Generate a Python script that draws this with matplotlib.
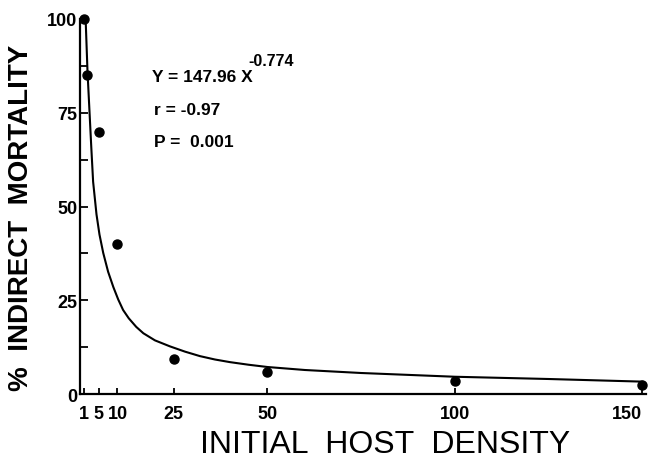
import matplotlib
matplotlib.use("Agg")
import matplotlib.pyplot as plt

# ---- data ----
density = [1, 2, 5, 10, 25, 50, 100, 150]
mortality = [100, 85, 70, 40, 9.3, 6, 3.5, 2.4]

# fitted curve as drawn in the reference
curve_x = [1.5, 2, 2.5, 3, 3.5, 4.4, 5.2, 6.2, 7.5, 8.9, 10.2, 11.5, 13, 15, 16.9,
           20, 24, 28, 32, 36, 40, 45, 50, 60, 75, 100, 125, 150]
curve_y = [100, 86, 76, 66, 56.6, 47.9, 42.5, 37.6, 32.6, 28.5, 25.2, 22.4, 20.2, 17.9, 16.2,
           14.3, 12.7, 11.3, 10.1, 9.2, 8.5, 7.8, 7.2, 6.4, 5.6, 4.6, 4.0, 3.3]

x_ticks = [1, 5, 10, 25, 50, 100, 150]
x_ticklabels = ["1", "5", "10", "25", "50", "100", "150"]
y_major = [0, 25, 50, 75, 100]
y_minor = [12.5, 37.5, 62.5, 87.5]

eq_text = "Y = 147.96 X"
eq_exp = "-0.774"
r_text = "r = -0.97"
p_text = "P =  0.001"
x_label = "INITIAL  HOST  DENSITY"
y_label = "%  INDIRECT  MORTALITY"

base = "Liberation Sans"

fig = plt.figure(figsize=(6.48, 4.64), dpi=100)
ax = fig.add_axes([80 / 648, 1 - 395 / 464, 566 / 648, 375 / 464])

ax.plot(curve_x, curve_y, color="black", lw=1.5, zorder=2,
        solid_joinstyle="round")
ax.plot(density, mortality, "o", color="black", ms=6.5, zorder=3, clip_on=False)

ax.set_xlim(0, 151)
ax.set_ylim(0, 100)

for s in ["top", "right"]:
    ax.spines[s].set_visible(False)
for s in ["left", "bottom"]:
    ax.spines[s].set_linewidth(1.6)

ax.set_xticks(x_ticks)
ax.set_xticklabels(x_ticklabels)
ax.set_yticks(y_major)
ax.set_yticks(y_minor, minor=True)
ax.tick_params(axis="x", direction="in", length=4, width=1.3, pad=8)
ax.tick_params(axis="y", which="both", direction="in", length=6, width=1.3, pad=2)
ax.tick_params(axis="x", which="minor", length=0)

for lab in ax.get_xticklabels() + ax.get_yticklabels():
    lab.set_fontfamily(base)
    lab.set_fontweight("bold")
    lab.set_fontsize(13)
ax.get_xticklabels()[-1].set_horizontalalignment("right")

tkw = dict(family=base, fontweight="bold", color="black", va="baseline")
ax.text(19.2, 83.5, eq_text, fontsize=12.5, **tkw)
ax.text(45.0, 87.8, eq_exp, fontsize=11.5, **tkw)
ax.text(19.8, 74.7, r_text, fontsize=12.5, **tkw)
ax.text(19.8, 66.1, p_text, fontsize=12.5, **tkw)

fig.text(385 / 648, 1 - 445 / 464, x_label, family=base, fontsize=23,
         ha="center", va="center")
fig.text(21 / 648, 1 - 218 / 464, y_label, family=base, fontsize=20,
         fontweight="bold", rotation=90, ha="center", va="center")

fig.savefig("out.png", dpi=100)
